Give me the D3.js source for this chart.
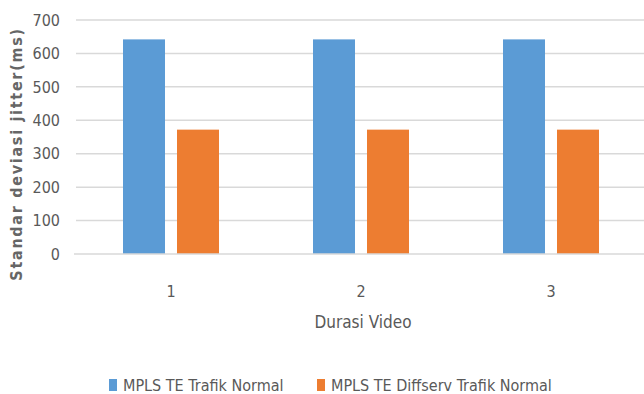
<!DOCTYPE html>
<html><head><meta charset="utf-8">
<script src="https://cdn.jsdelivr.net/npm/d3@7"></script>
<style>body{margin:0;background:#fff;} svg{display:block;}</style>
</head><body>
<svg id="c" width="644" height="394"></svg>
<script>
const categories = ["1", "2", "3"];
const seriesNames = ["MPLS TE Trafik Normal", "MPLS TE Diffserv Trafik Normal"];
const seriesA = [642, 642, 642];
const seriesB = [372, 372, 372];
const yTicks = [0, 100, 200, 300, 400, 500, 600, 700];
const colors = ["#5B9BD5", "#ED7D31"];

const svg = d3.select("#c");
const font = "'Liberation Sans Narrow','DejaVu Sans Condensed','Open Sans',sans-serif";
const textColor = "#595959";

const y = d3.scaleLinear().domain([0, 700]).range([254, 20]);
const x0 = d3.scaleBand().domain(categories).range([76, 646]).paddingInner(1 - 96/190).paddingOuter((1 - 96/190)/2);
const x1 = d3.scaleBand().domain(seriesNames).range([0, x0.bandwidth()]).paddingInner(12/54);

// gridlines
svg.append("g").selectAll("line").data(yTicks.filter(t => t > 0)).join("line")
  .attr("x1", 76).attr("x2", 644).attr("y1", d => y(d)).attr("y2", d => y(d))
  .attr("stroke", "#d9d9d9").attr("stroke-width", 1.5);

// bars
const data = categories.map((c, i) => ({cat: c, vals: [seriesA[i], seriesB[i]]}));
const g = svg.append("g").selectAll("g").data(data).join("g")
  .attr("transform", d => `translate(${x0(d.cat)},0)`);
g.selectAll("rect").data(d => d.vals.map((v, j) => ({name: seriesNames[j], v, j}))).join("rect")
  .attr("x", d => x1(d.name)).attr("width", x1.bandwidth())
  .attr("y", d => y(d.v)).attr("height", d => y(0) - y(d.v))
  .attr("fill", d => colors[d.j]);

// baseline
svg.append("line").attr("x1", 74).attr("x2", 644).attr("y1", y(0)).attr("y2", y(0))
  .attr("stroke", "#d9d9d9").attr("stroke-width", 1.5);

// y ticks
svg.append("g").selectAll("text").data(yTicks).join("text")
  .attr("x", 60).attr("y", d => y(d)).attr("dy", "0.36em")
  .attr("text-anchor", "end").attr("font-family", font).attr("font-size", 16)
  .attr("fill", textColor).text(d => d);

// x tick labels
svg.append("g").selectAll("text").data(categories).join("text")
  .attr("x", d => x0(d) + x0.bandwidth()/2).attr("y", 297)
  .attr("text-anchor", "middle").attr("font-family", font).attr("font-size", 16)
  .attr("fill", textColor).text(d => d);

// x title
svg.append("text").attr("x", 363).attr("y", 328).attr("text-anchor", "middle")
  .attr("font-family", font).attr("font-size", 17).attr("fill", textColor).text("Durasi Video");

// y title
svg.append("text").attr("transform", "translate(22,154) rotate(-90)")
  .attr("text-anchor", "middle").attr("font-family", font).attr("font-size", 16)
  .attr("font-weight", "bold").attr("letter-spacing", 1.7).attr("fill", "#666666")
  .text("Standar deviasi jitter(ms)");

// legend
const legX = [109, 317];
const leg = svg.append("g").selectAll("g").data(seriesNames).join("g")
  .attr("transform", (d, i) => `translate(${legX[i]},0)`);
leg.append("rect").attr("x", 0).attr("y", 379).attr("width", 8).attr("height", 12)
  .attr("fill", (d, i) => colors[i]);
leg.append("text").attr("x", 14).attr("y", 391).attr("font-family", font).attr("font-size", 16)
  .attr("fill", textColor).text(d => d);
</script>
</body></html>
